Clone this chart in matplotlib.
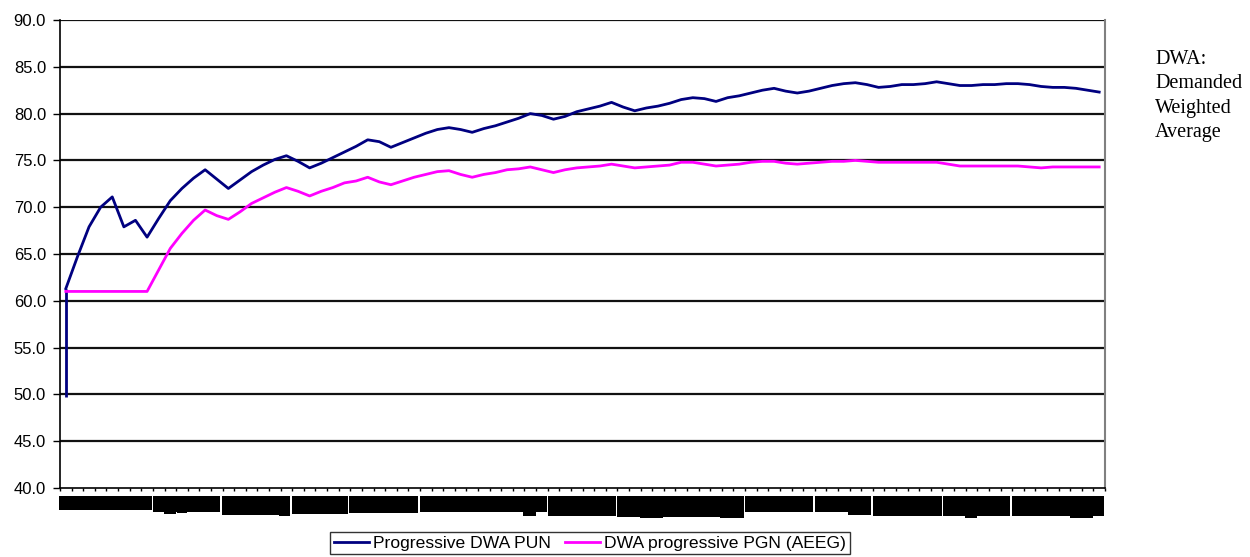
import matplotlib.pyplot as plt
import numpy as np
from matplotlib.patches import Rectangle

# progressive demanded weighted average, one value per period
pun_start = 49.7
pun = [
    61.3, 64.7, 67.9, 70.0, 71.1, 67.9, 68.6, 66.8, 68.8, 70.7,
    72.0, 73.1, 74.0, 73.0, 72.0, 72.9, 73.8, 74.5, 75.1, 75.5,
    74.9, 74.2, 74.7, 75.3, 75.9, 76.5, 77.2, 77.0, 76.4, 76.9,
    77.4, 77.9, 78.3, 78.5, 78.3, 78.0, 78.4, 78.7, 79.1, 79.5,
    80.0, 79.8, 79.4, 79.7, 80.2, 80.5, 80.8, 81.2, 80.7, 80.3,
    80.6, 80.8, 81.1, 81.5, 81.7, 81.6, 81.3, 81.7, 81.9, 82.2,
    82.5, 82.7, 82.4, 82.2, 82.4, 82.7, 83.0, 83.2, 83.3, 83.1,
    82.8, 82.9, 83.1, 83.1, 83.2, 83.4, 83.2, 83.0, 83.0, 83.1,
    83.1, 83.2, 83.2, 83.1, 82.9, 82.8, 82.8, 82.7, 82.5, 82.3,
]
pgn = [
    61.0, 61.0, 61.0, 61.0, 61.0, 61.0, 61.0, 61.0, 63.3, 65.6,
    67.2, 68.6, 69.7, 69.1, 68.7, 69.5, 70.4, 71.0, 71.6, 72.1,
    71.7, 71.2, 71.7, 72.1, 72.6, 72.8, 73.2, 72.7, 72.4, 72.8,
    73.2, 73.5, 73.8, 73.9, 73.5, 73.2, 73.5, 73.7, 74.0, 74.1,
    74.3, 74.0, 73.7, 74.0, 74.2, 74.3, 74.4, 74.6, 74.4, 74.2,
    74.3, 74.4, 74.5, 74.8, 74.8, 74.6, 74.4, 74.5, 74.6, 74.8,
    74.9, 74.9, 74.7, 74.6, 74.7, 74.8, 74.9, 74.9, 75.0, 74.9,
    74.8, 74.8, 74.8, 74.8, 74.8, 74.8, 74.6, 74.4, 74.4, 74.4,
    74.4, 74.4, 74.4, 74.3, 74.2, 74.3, 74.3, 74.3, 74.3, 74.3,
]
series_names = ['Progressive DWA PUN', 'DWA progressive PGN (AEEG)']
y_ticks = np.arange(40, 90.1, 5)

# blacked-out category labels under the axis: (left px, right px, bottom px)
label_blocks = [
    (59, 152, 510), (153, 220, 512), (222, 290, 515), (292, 348, 514),
    (349, 418, 513), (420, 547, 512), (548, 616, 516), (617, 744, 517),
    (745, 813, 512), (815, 871, 512), (873, 942, 516), (943, 1010, 516),
    (1012, 1104, 516),
]
label_notches = [
    (164, 176, 514), (177, 187, 513), (279, 290, 516), (523, 536, 516),
    (640, 663, 518), (720, 744, 518), (848, 871, 515), (965, 977, 518),
    (1070, 1093, 518),
]

W, H = 1250, 557
fig = plt.figure(figsize=(W / 100, H / 100), dpi=100)
plt.rcParams['font.family'] = ['Liberation Sans', 'DejaVu Sans']
ax = fig.add_axes([60 / W, 1 - 488 / H, 1045 / W, 468 / H])

x = np.arange(len(pun))
ax.plot([0, 0], [pun_start, pun[0]], color='#000080', lw=2.0, solid_capstyle='butt')
ax.plot(x, pun, color='#000080', lw=2.0, label=series_names[0])
ax.plot(x, pgn, color='#FF00FF', lw=2.0, label=series_names[1])

ax.set_xlim(-0.5, len(pun) - 0.5)
ax.set_ylim(40, 90)
ax.set_yticks(y_ticks)
ax.set_yticklabels([f'{v:.1f}' for v in y_ticks])
ax.set_xticks(np.arange(-0.5, len(pun), 1.0))
ax.set_xticklabels([])
ax.tick_params(axis='y', length=5, width=1, pad=5, labelsize=12)
ax.tick_params(axis='x', length=2.5, width=1)

for v in y_ticks[1:]:
    ax.axhline(v, color='#111111', lw=1.6, zorder=0)

for side in ['left', 'bottom']:
    ax.spines[side].set_color('black')
    ax.spines[side].set_linewidth(1.2)
ax.spines['top'].set_visible(False)
ax.spines['right'].set_color('#808080')
ax.spines['right'].set_linewidth(1.5)

for x0, x1, yb in label_blocks + label_notches:
    top = 496 if (x0, x1, yb) in label_blocks else yb - 4
    fig.add_artist(Rectangle((x0 / W, 1 - yb / H), (x1 - x0) / W, (yb - top) / H,
                             transform=fig.transFigure, color='black', lw=0))

leg = fig.legend(loc='center', bbox_to_anchor=(590 / W, 1 - 543 / H), ncol=2,
                 fontsize=12.6, frameon=True, fancybox=False, handlelength=2.0,
                 handletextpad=0.25, columnspacing=0.8, borderpad=0.2)
leg.get_frame().set_edgecolor('black')
leg.get_frame().set_linewidth(1.0)

fig.text(1155 / W, 1 - 50 / H, 'DWA:\nDemanded\nWeighted\nAverage', family='Liberation Serif',
         fontsize=14.5, va='top', ha='left', linespacing=1.38)

fig.savefig('out.png', dpi=100)
